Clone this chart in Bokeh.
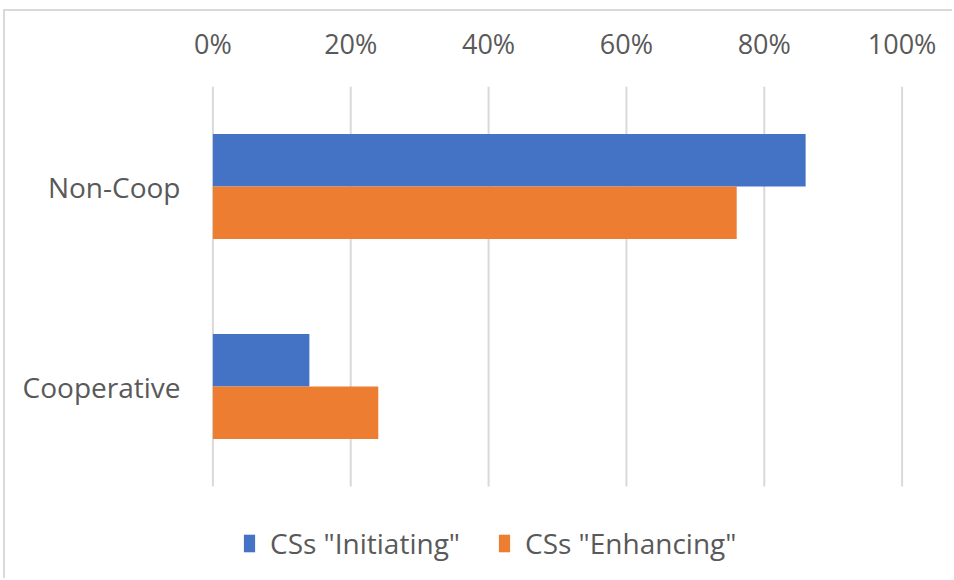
from bokeh.plotting import figure
from bokeh.models import (Range1d, ColumnDataSource, NumeralTickFormatter,
                          FixedTicker, Legend, LegendItem)
from bokeh.transform import dodge
from bokeh.embed import file_html
from bokeh.resources import INLINE

categories = ["Cooperative", "Non-Coop"]
initiating = [0.14, 0.86]
enhancing = [0.24, 0.76]
series_names = ['CSs "Initiating"', 'CSs "Enhancing"']
x_ticks = [0, 0.2, 0.4, 0.6, 0.8, 1.0]

BLUE = "#4472C4"
ORANGE = "#ED7D31"
TEXT = "#595959"
GRID = "#D9D9D9"
FONT = "Open Sans"

pos = [i + 0.5 for i in range(len(categories))]
src = ColumnDataSource(dict(pos=pos, init=initiating, enh=enhancing))

p = figure(width=949, height=569, output_backend="svg", toolbar_location=None,
           y_range=Range1d(-0.47, len(categories)),
           x_range=Range1d(-0.002, 1.002), x_axis_location="above",
           min_border_left=206, min_border_right=51, min_border_top=75, min_border_bottom=0)
p.styles = {"margin-top": "9px", "margin-left": "3px",
            "border-top": "2px solid #D9D9D9", "border-left": "2px solid #D9D9D9"}
p.outline_line_color = None
p.background_fill_color = "white"
p.border_fill_color = "white"

# vertical gridlines spanning only the category bands
p.segment(x0=x_ticks, x1=x_ticks, y0=[0] * len(x_ticks), y1=[len(categories)] * len(x_ticks),
          line_color=GRID, line_width=2)

bh = 0.2625
r1 = p.hbar(y=dodge("pos", bh / 2), right="init", left=0, height=bh,
            source=src, fill_color=BLUE, line_color=None)
r2 = p.hbar(y=dodge("pos", -bh / 2), right="enh", left=0, height=bh,
            source=src, fill_color=ORANGE, line_color=None)

xa = p.xaxis[0]
xa.ticker = FixedTicker(ticks=x_ticks)
xa.formatter = NumeralTickFormatter(format="0%")
xa.axis_line_color = None
xa.major_tick_line_color = None
xa.minor_tick_line_color = None
xa.major_label_text_font = FONT
xa.major_label_text_font_size = "27px"
xa.major_label_text_color = TEXT
xa.major_label_standoff = 19

ya = p.yaxis[0]
ya.ticker = FixedTicker(ticks=pos)
ya.major_label_overrides = {pv: c for pv, c in zip(pos, categories)}
ya.axis_line_color = None
ya.major_tick_line_color = None
ya.minor_tick_line_color = None
ya.major_label_text_font = FONT
ya.major_label_text_font_size = "28px"
ya.major_label_text_color = TEXT
ya.major_label_standoff = 25

p.xgrid.grid_line_color = None
p.ygrid.grid_line_color = None

legend = Legend(items=[LegendItem(label=series_names[0], renderers=[r1]),
                       LegendItem(label=series_names[1], renderers=[r2])],
                orientation="horizontal", location=(31, 18),
                glyph_width=14, glyph_height=22, label_standoff=14, spacing=37,
                padding=0, margin=0, border_line_color=None, background_fill_alpha=0,
                label_text_font=FONT, label_text_font_size="28px", label_text_color=TEXT,
                label_height=22)
p.add_layout(legend, "center")

open("out.html", "w").write(file_html(p, INLINE))
